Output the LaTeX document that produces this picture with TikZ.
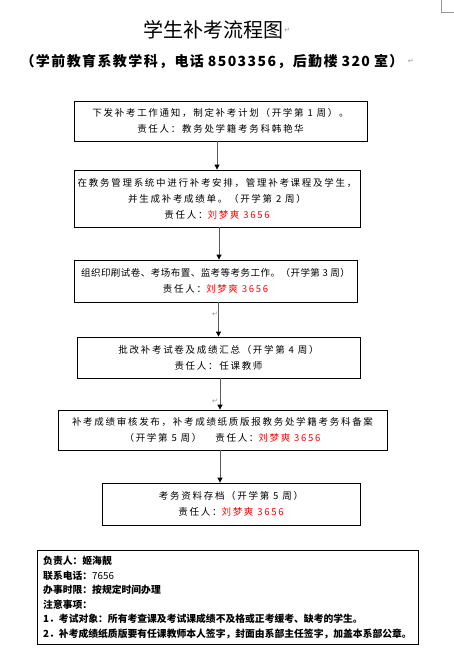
\documentclass[tikz,border=0pt]{standalone}
\usepackage{fontspec}
\setmainfont{Liberation Sans}
\newfontfamily\cjk{Noto Sans CJK SC}
\newfontfamily\cjkbox[LetterSpace=18]{Noto Sans CJK SC}
\newfontfamily\cjktight[LetterSpace=5]{Noto Sans CJK SC}
\newfontfamily\cjksub[LetterSpace=10]{Noto Sans CJK SC}
\newfontfamily\symf{DejaVu Sans}
\usetikzlibrary{arrows.meta}
\definecolor{markgray}{RGB}{150,150,150}
\definecolor{linegray}{RGB}{90,90,90}
\tikzset{
  stepbox/.style={draw=black, line width=0.8pt, inner sep=0pt, align=center,
    font=\fontsize{9.5}{16}\cjkbox},
  flowarrow/.style={draw=linegray, line width=0.8pt,
    -{Triangle[length=5pt,width=5pt,color=black]}},
  pmark/.style={text=markgray, font=\fontsize{7}{7}\symf, inner sep=0pt},
  notebox/.style={draw=black, line width=0.9pt, inner sep=0pt},
  noteline/.style={anchor=west, inner sep=0pt, font=\fontsize{9.8}{12}\cjk\bfseries}
}
\newcommand{\red}[1]{\textcolor{red}{#1}}
\begin{document}
\begin{tikzpicture}[x=1pt,y=-1pt]
\useasboundingbox[fill=white] (0,0) rectangle (454,651);
% page corner mark
\draw[markgray, line width=0.6pt] (441,0) -- (441,12) -- (454,12);

\node[inner sep=0pt, font=\fontsize{20}{20}\cjk] (title) at (213,30) {学生补考流程图};
\node[pmark, anchor=west] (tmark) at ([xshift=1pt]title.east) {↵};
\node[inner sep=0pt, font=\fontsize{14}{14}\cjksub\bfseries] (sub) at (212,61)
  {（学前教育系教学科，电话\hspace{4pt}8503356，后勤楼\hspace{4pt}320\hspace{4pt}室）};
\node[pmark, anchor=west] (smark) at ([xshift=4pt]sub.east) {↵};

\node[stepbox, minimum width=293pt, minimum height=40pt] (B1) at (220.5,121)
  {下发补考工作通知，制定补考计划（开学第 1 周）。\\责任人：教务处学籍考务科韩艳华};
\node[stepbox, minimum width=286pt, minimum height=57pt] (B2) at (217,198.5)
  {在教务管理系统中进行补考安排，管理补考课程及学生，\\并生成补考成绩单。（开学第 2 周）\\责任人：\red{刘梦爽 3656}};
\node[stepbox, minimum width=283pt, minimum height=42pt] (B3) at (215.5,281)
  {{\cjktight 组织印刷试卷、考场布置、监考等考务工作。（开学第 3 周）}\\责任人：\red{刘梦爽 3656}};
\node[stepbox, minimum width=283pt, minimum height=41pt] (B4) at (218.5,357.5)
  {批改补考试卷及成绩汇总（开学第 4 周）\\责任人：任课教师};
\node[stepbox, minimum width=329pt, minimum height=40pt] (B5) at (222.5,430)
  {补考成绩审核发布，补考成绩纸质版报教务处学籍考务科备案\\（开学第 5 周）\hspace{14pt}责任人：\red{刘梦爽 3656}};
\node[stepbox, minimum width=258pt, minimum height=42pt] (B6) at (231,504)
  {考务资料存档（开学第 5 周）\\责任人：\red{刘梦爽 3656}};

\draw[flowarrow] (B1.south -| B2.north) -- (B2.north);
\draw[flowarrow] ([xshift=2pt]B2.south) -- ([xshift=2pt]B2.south |- B3.north);
\draw[flowarrow] (B3.south -| B4.north) -- (B4.north);
\draw[flowarrow] ([xshift=1.5pt]B4.south) -- ([xshift=1.5pt]B4.south |- B5.north);
\draw[flowarrow] ([xshift=-2.5pt]B5.south) -- ([xshift=-2.5pt]B5.south |- B6.north);

\node[pmark] (m1) at (215,314) {↵};
\node[pmark] (m2) at (215,401) {↵};

\node[notebox, minimum width=381pt, minimum height=94pt] (B7) at (227.5,597) {};
\node[noteline] (n1) at (43,561) {负责人：姬海靓};
\node[noteline] (n2) at (43,575.5) {联系电话：\mdseries 7656};
\node[noteline] (n3) at (43,590) {办事时限：按规定时间办理};
\node[noteline] (n4) at (43,604.5) {注意事项：};
\node[noteline] (n5) at (43,619) {1．考试对象：所有考查课及考试课成绩不及格或正考缓考、缺考的学生。};
\node[noteline] (n6) at (43,633.5) {2．补考成绩纸质版要有任课教师本人签字，封面由系部主任签字，加盖本系部公章。};
\end{tikzpicture}
\end{document}
